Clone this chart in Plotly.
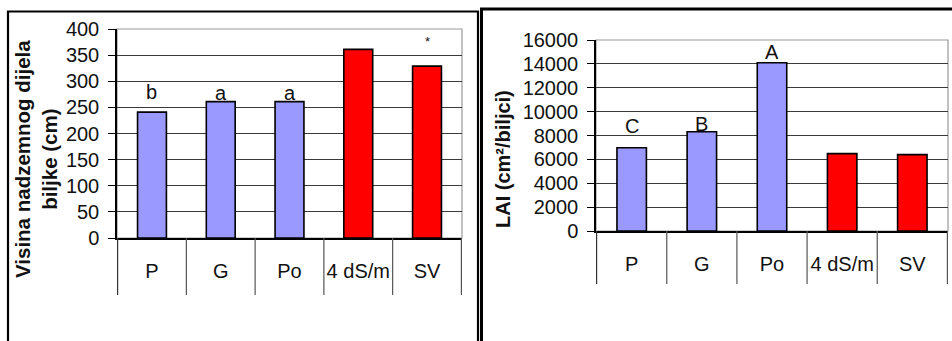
import plotly.graph_objects as go

W, H = 952, 341

categories = ["P", "G", "Po", "4 dS/m", "SV"]
bar_colors = ["#9999FF", "#9999FF", "#9999FF", "#FF0000", "#FF0000"]

height_cm = [241, 261, 261, 361, 329]
height_letters = ["b", "a", "a", "", "*"]
height_letter_y = [279, 277, 277, None, 377]

lai = [6980, 8320, 14100, 6480, 6400]
lai_letters = ["C", "B", "A", "", ""]
lai_letter_y = [8800, 8960, 15020, None, None]


def px_x(x):
    return x / W


def px_y(y):
    return 1 - y / H


FONT = "Liberation Sans, Arial, sans-serif"
GRID = "#3a3a3a"

fig = go.Figure()

fig.add_trace(go.Bar(
    x=categories, y=height_cm, marker=dict(color=bar_colors, line=dict(color="black", width=1.6)),
    xaxis="x", yaxis="y", hoverinfo="skip",
))
fig.add_trace(go.Bar(
    x=categories, y=lai, marker=dict(color=bar_colors, line=dict(color="black", width=1.6)),
    xaxis="x2", yaxis="y2", hoverinfo="skip",
))

panels = [
    # x axis name, y axis name, x domain px, y domain px (bottom, top), category bottom px, range, dtick
    ("x", "y", (117, 462), (238, 29), 295, [0, 400], 50),
    ("x2", "y2", (596, 948), (231, 40), 284, [0, 16000], 2000),
]

layout = dict(
    width=W, height=H,
    margin=dict(l=0, r=0, t=0, b=0, pad=0, autoexpand=False),
    paper_bgcolor="white", plot_bgcolor="white",
    showlegend=False, bargap=0.58,
    font=dict(family=FONT, size=20, color="#111"),
)

shapes = []
for xa, ya, (x0, x1), (yb, yt), cat_bottom, rng, dt in panels:
    layout["xaxis" + xa[1:]] = dict(
        domain=[px_x(x0), px_x(x1)], anchor=ya, type="category", automargin=False,
        showline=True, linecolor="black", linewidth=1.5,
        ticks="", ticklabelstandoff=14, showgrid=False,
        tickfont=dict(size=20),
    )
    layout["yaxis" + ya[1:]] = dict(
        domain=[px_y(yb), px_y(yt)], anchor=xa, range=rng, dtick=dt, automargin=False,
        showline=True, linecolor="black", linewidth=1.5,
        ticks="outside", ticklen=7, tickcolor="black", tickwidth=1.2,
        showgrid=True, gridcolor=GRID, gridwidth=1,
        zeroline=False, ticklabelstandoff=5, tickformat="d",
        tickfont=dict(size=20),
    )
    # plot area border (gray, top and right)
    shapes.append(dict(type="rect", xref=xa + " domain", yref=ya + " domain",
                       x0=0, x1=1, y0=0, y1=1, line=dict(color="#999999", width=1.2),
                       layer="below"))
    # category table separators below the axis
    for i in range(len(categories) + 1):
        shapes.append(dict(type="line", xref=xa, yref="paper",
                           x0=i - 0.5, x1=i - 0.5, y0=px_y(cat_bottom), y1=px_y(yb),
                           line=dict(color="#555555" if i else "#333333", width=1.2)))

# panel frames
shapes.append(dict(type="rect", xref="paper", yref="paper",
                   x0=px_x(8), x1=px_x(478), y0=-0.2, y1=px_y(11.5),
                   line=dict(color="black", width=2.2)))
shapes.append(dict(type="rect", xref="paper", yref="paper",
                   x0=px_x(481.5), x1=px_x(960), y0=-0.2, y1=px_y(9),
                   line=dict(color="black", width=3)))

layout["shapes"] = shapes

annotations = []
for cat, txt, y in zip(categories, height_letters, height_letter_y):
    if txt:
        annotations.append(dict(x=cat, y=y, xref="x", yref="y", text=txt, showarrow=False,
                                xanchor="center", yanchor="middle",
                                font=dict(size=13 if txt == "*" else 20)))
for cat, txt, y in zip(categories, lai_letters, lai_letter_y):
    if txt:
        annotations.append(dict(x=cat, y=y, xref="x2", yref="y2", text=txt, showarrow=False,
                                xanchor="center", yanchor="middle", font=dict(size=20)))

# axis titles
annotations.append(dict(x=px_x(36), y=px_y(159), xref="paper", yref="paper",
                        xanchor="center", yanchor="middle",
                        text="<b>Visina nadzemnog dijela<br>biljke (cm)</b>", showarrow=False,
                        textangle=-90, font=dict(size=20.5, color="#111")))
annotations.append(dict(x=px_x(503), y=px_y(159), xref="paper", yref="paper",
                        xanchor="center", yanchor="middle",
                        text="<b>LAI (cm²/biljci)</b>", showarrow=False,
                        textangle=-90, font=dict(size=20, color="#111")))
layout["annotations"] = annotations

fig.update_layout(**layout)
fig.write_html(
    "out.html",
    config={"displayModeBar": False},
    post_script=(
        "document.body.style.margin='0';document.body.style.padding='0';"
        "var gd=document.getElementById('{plot_id}');"
        "gd.style.position='absolute';gd.style.left='0px';gd.style.top='0px';"
    ),
)
